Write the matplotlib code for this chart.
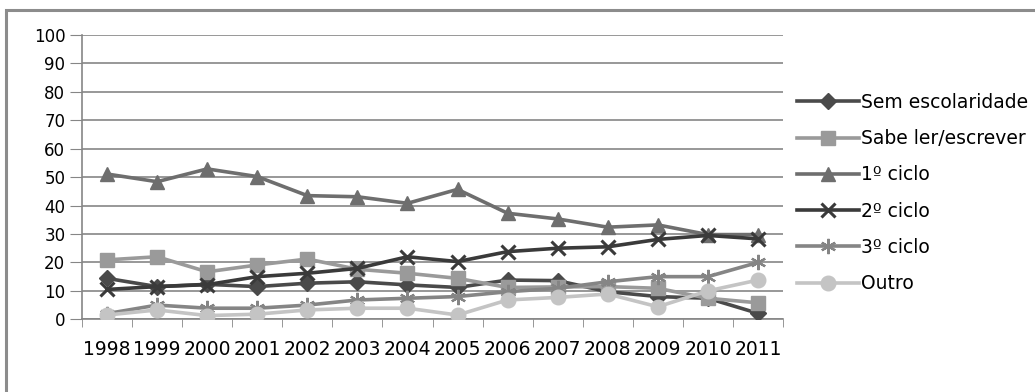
import matplotlib
matplotlib.use('Agg')
import matplotlib.pyplot as plt
from matplotlib.patches import Rectangle

anos = ['1998', '1999', '2000', '2001', '2002', '2003', '2004',
        '2005', '2006', '2007', '2008', '2009', '2010', '2011']

sem_escolaridade = [14.4, 11.5, 12.3, 11.5, 12.7, 13.2, 12.1, 11.2, 13.8, 13.6, 9.7, 8.0, 7.4, 2.1]
sabe_ler = [20.9, 22.0, 16.7, 19.1, 21.2, 17.6, 16.2, 14.4, 11.2, 11.4, 11.5, 10.9, 7.4, 5.8]
ciclo1 = [51.1, 48.4, 52.9, 50.2, 43.5, 43.1, 40.8, 45.7, 37.3, 35.3, 32.4, 33.2, 29.8, 29.8]
ciclo2 = [10.5, 11.5, 12.2, 15.0, 16.2, 17.9, 22.0, 20.3, 23.8, 25.0, 25.5, 28.1, 29.5, 28.3]
ciclo3 = [2.0, 5.0, 3.9, 3.9, 5.0, 6.8, 7.4, 8.0, 9.7, 10.9, 13.2, 15.0, 15.0, 20.0]
outro = [1.5, 3.3, 1.3, 1.8, 3.3, 3.9, 3.9, 1.5, 6.8, 7.7, 8.9, 4.4, 10.0, 13.8]

fig = plt.figure(figsize=(10.35, 3.92), dpi=100)
ax = fig.add_axes([82/1035, 1 - 319.3/392, 701/1035, 284.3/392])

# moldura do grafico (estilo Excel)
fig.patches.append(Rectangle((6/1035, -0.1), 1.1, 1 - 10/392 + 0.1, transform=fig.transFigure,
                             fill=False, edgecolor='#8c8c8c', linewidth=2.2))

x = list(range(len(anos)))
lw = 2.6
ax.plot(x, sem_escolaridade, '-', color='#4a4a4a', lw=lw, marker='D', ms=8.5, label='Sem escolaridade', zorder=3)
ax.plot(x, sabe_ler, '-', color='#9a9a9a', lw=lw, marker='s', ms=10, label='Sabe ler/escrever', zorder=4)
ax.plot(x, ciclo1, '-', color='#6e6e6e', lw=lw, marker='^', ms=10.5, label='1º ciclo', zorder=5)
ax.plot(x, ciclo2, '-', color='#3a3a3a', lw=lw, marker='x', ms=10, mew=2.2, label='2º ciclo', zorder=6)
ax.plot(x, ciclo3, '-', color='#858585', lw=lw, marker=(6, 2, 0), ms=11, mew=1.6, label='3º ciclo', zorder=7)
ax.plot(x, outro, '-', color='#c4c4c4', lw=lw, marker='o', ms=10.5, label='Outro', zorder=8)

ax.set_xlim(-0.5, len(anos) - 0.5)
ax.set_ylim(0, 100)
ax.set_yticks(range(0, 101, 10))
ax.set_xticks(x)
ax.set_xticklabels(anos, fontsize=13.5)
ax.set_xticks([i - 0.5 for i in range(len(anos) + 1)], minor=True)
ax.tick_params(axis='x', which='major', length=0, pad=15)
ax.tick_params(axis='x', which='minor', length=6, color='#868686', direction='out')
ax.tick_params(axis='y', length=9, color='#868686', labelsize=12, pad=3)
ax.grid(axis='y', color='#868686', linewidth=1.2)
ax.set_axisbelow(True)
for s in ['top', 'right']:
    ax.spines[s].set_visible(False)
for s in ['left', 'bottom']:
    ax.spines[s].set_color('#868686')
    ax.spines[s].set_linewidth(1.2)

fig.legend(loc='upper left', bbox_to_anchor=(797/1035, 1 - 93/392), frameon=False,
           fontsize=13.5, handlelength=3.3, handletextpad=0.1, labelspacing=0.92,
           borderpad=0, borderaxespad=0)

fig.savefig('out.png', dpi=100)
